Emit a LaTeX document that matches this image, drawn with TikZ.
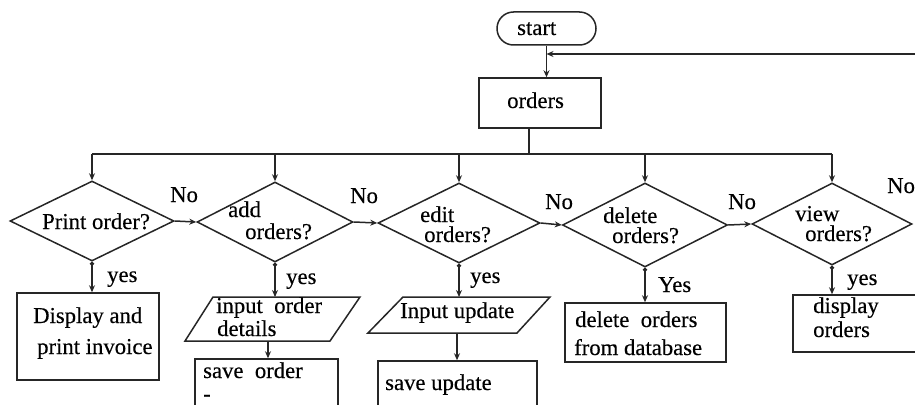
\documentclass[tikz,border=0pt]{standalone}
\usepackage{fontspec}
\setmainfont{Liberation Serif}[FakeBold=0.35]
\usetikzlibrary{shapes.geometric,shapes.misc,arrows.meta}
\begin{document}
\begin{tikzpicture}[x=1pt,y=-1pt,
  shp/.style={draw=black!85, line width=1.5pt, inner sep=0pt},
  boxshape/.style={shp, rectangle},
  dia/.style={shp, diamond},
  line/.style={draw=black!85, line width=1.5pt},
  arr/.style={line, -{Stealth[length=7pt,width=6pt]}},
  darr/.style={line, {Circle[length=4pt]}-{Stealth[length=7pt,width=6pt]}},
  txt/.style={anchor=base west, inner sep=0pt, text=black,
              font=\fontsize{22.7}{24}\selectfont}]
\useasboundingbox (0,0) rectangle (915,404);
\clip (0,0) rectangle (915,404);

% terminal and main process
\node[shp, rounded rectangle, minimum width=99pt, minimum height=33pt] (start) at (546.5,28.5) {};
\node[boxshape, minimum width=122pt, minimum height=50pt] (ord) at (540,103) {};

% decisions
\node[dia, minimum width=164pt, minimum height=80pt] (d1) at (92,221) {};
\node[dia, minimum width=156pt, minimum height=80pt] (d2) at (275,222) {};
\node[dia, minimum width=162pt, minimum height=80pt] (d3) at (459,223) {};
\node[dia, minimum width=165pt, minimum height=84pt] (d4) at (645,225) {};
\node[dia, minimum width=160pt, minimum height=82pt] (d5) at (832,224) {};

% actions under each decision
\node[boxshape, minimum width=142pt, minimum height=87pt] (b1) at (88,336.5) {};
% input parallelograms, with their top and bottom connection points
\draw[line, line join=miter] (213,297) -- (360,297) -- (330,341) -- (185,341) -- cycle;
\coordinate (p1n) at (275,297);
\coordinate (p1s) at (268,341);
\node[boxshape, minimum width=143pt, minimum height=61pt] (so) at (266.5,389.5) {};
\draw[line, line join=miter] (403,297) -- (550,297) -- (517,333) -- (368,333) -- cycle;
\coordinate (p2n) at (459,297);
\coordinate (p2s) at (457,333);
\node[boxshape, minimum width=159pt, minimum height=59pt] (su) at (457.5,390.5) {};
\node[boxshape, minimum width=161pt, minimum height=59pt] (b4) at (645.5,332.5) {};
\node[boxshape, minimum width=147pt, minimum height=57pt] (b5) at (866.5,323.5) {};

% texts
\node[txt] (tstart) at (517,35) {start};
\node[txt] (tord) at (507,108) {orders};
\node[txt] (t1) at (42,229) {Print order?};
\node[txt] (t2a) at (228,217) {add};
\node[txt] (t2b) at (245,239) {orders?};
\node[txt] (t3a) at (420,222) {edit};
\node[txt] (t3b) at (424,242) {orders?};
\node[txt] (t4a) at (603,223) {delete};
\node[txt] (t4b) at (612,243) {orders?};
\node[txt] (t5a) at (795,221) {view};
\node[txt] (t5b) at (805,241) {orders?};
\node[txt] (tb1a) at (33,323) {Display and};
\node[txt] (tb1b) at (37,354) {print invoice};
\node[txt] (tp1a) at (216,313) {input\ \ order};
\node[txt] (tp1b) at (217,336) {details};
\node[txt] (tsoa) at (203,378) {save\ \ order};
\node[txt] (tsob) at (203,401) {-};
\node[txt] (tp2) at (400,318) {Input update};
\node[txt] (tsu) at (385,390) {save update};
\node[txt] (tb4a) at (575,327) {delete\ \ orders};
\node[txt] (tb4b) at (574,355) {from database};
\node[txt] (tb5a) at (813,313) {display};
\node[txt] (tb5b) at (813,337) {orders};

% branch labels
\node[txt] (y1) at (107,282) {yes};
\node[txt] (y2) at (286,284) {yes};
\node[txt] (y3) at (470,283) {yes};
\node[txt] (y4) at (658,292) {Yes};
\node[txt] (y5) at (847,285) {yes};
\node[txt] (n1) at (170,202) {No};
\node[txt] (n2) at (350,203) {No};
\node[txt] (n3) at (545,209) {No};
\node[txt] (n4) at (728,209) {No};
\node[txt] (n5) at (887,193) {No};

% main flow
\coordinate (loopin) at (915,54);
\coordinate (bus) at (529,154);
\draw[arr] (start.south) -- (start.south |- ord.north);
\draw[arr] (loopin) -- (loopin -| start.south);
\draw[line] (bus |- ord.south) -- (bus);
\draw[line] (d1.north |- bus) -- (d5.north |- bus);
\foreach \d in {d1,d2,d3,d4,d5}
  \draw[arr] (\d.north |- bus) -- (\d.north);

% "No" branches
\draw[arr] (d1.east) -- (d2.west);
\draw[arr] (d2.east) -- (d3.west);
\draw[arr] (d3.east) -- (d4.west);
\draw[arr] (d4.east) -- (d5.west);

% "yes" branches
\draw[darr] (d1.south) -- (d1.south |- b1.north);
\draw[darr] (d2.south) -- (d2.south |- p1n);
\draw[arr] (p1s) -- (p1s |- so.north);
\draw[darr] (d3.south) -- (d3.south |- p2n);
\draw[arr] (p2s) -- (p2s |- su.north);
\draw[darr] (d4.south) -- (d4.south |- b4.north);
\draw[darr] (d5.south) -- (d5.south |- b5.north);
\end{tikzpicture}
\end{document}
